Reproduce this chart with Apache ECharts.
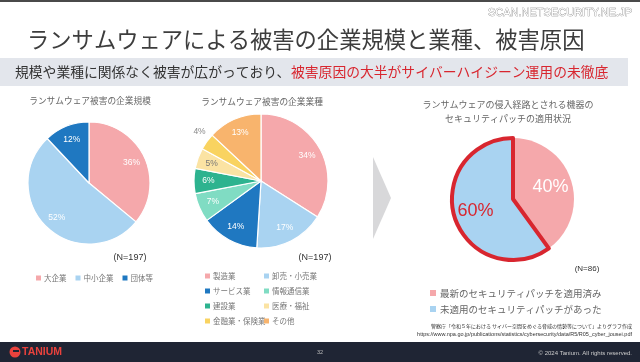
<!DOCTYPE html>
<html><head><meta charset="utf-8">
<script src="https://cdn.jsdelivr.net/npm/echarts@6/dist/echarts.min.js"></script>
<style>html,body{margin:0;padding:0;background:#fff}#c{width:640px;height:362px}</style>
</head><body><div id="c"></div>
<script>
// ---- data ----
const sizeCats = ['大企業', '中小企業', '団体等'];
const sizeVals = [36, 52, 12];
const industryCats = ['製造業', '卸売・小売業', 'サービス業', '情報通信業', '建設業', '医療・福祉', '金融業・保険業', 'その他'];
const industryVals = [34, 17, 14, 7, 6, 5, 4, 13];
const patchCats = ['最新のセキュリティパッチを適用済み', '未適用のセキュリティパッチがあった'];
const patchVals = [40, 60];
const sizeN = 197, industryN = 197, patchN = 86;

// ---- styles ----
const sizeColors = ['#f5a8ab', '#a9d3f1', '#1f78c1'];
const industryColors = ['#f5a8ab', '#a9d3f1', '#1f78c1', '#80dcc3', '#2db38f', '#fbe3a3', '#f9d360', '#f8b46d'];
const industryLabelColors = ['#fff', '#fff', '#fff', '#fff', '#fff', '#777', '#888', '#fff'];
const patchColors = ['#f5a8ab', '#a9d3f1'];
const JP = '"Noto Sans CJK JP", "Noto Sans", sans-serif';
const RED = '#d8262f';

const chart = echarts.init(document.getElementById('c'), null, {renderer: 'canvas'});

function mk(cats, vals, colors, extra) {
  return cats.map((n, i) => Object.assign({name: n, value: vals[i], itemStyle: {color: colors[i]}}, extra ? extra(i) : {}));
}
function ghost(cats, vals, labelFn) {
  return cats.map((n, i) => Object.assign({name: n, value: vals[i], itemStyle: {color: 'rgba(0,0,0,0)', borderWidth: 0}}, labelFn ? labelFn(i) : {}));
}

const legendBase = {icon: 'rect', itemWidth: 5, itemHeight: 5, selectedMode: false, padding: 0,
  itemStyle: {borderWidth: 0},
  textStyle: {fontFamily: JP, fontSize: 7.5, lineHeight: 9, color: '#777', padding: [0, 0, 0, -2]}};

const option = {
  animation: false,
  backgroundColor: '#fff',
  legend: [
    Object.assign({}, legendBase, {data: sizeCats, orient: 'horizontal', left: 36, top: 273.5, itemGap: 9}),
    Object.assign({}, legendBase, {data: [industryCats[0], industryCats[2], industryCats[4], industryCats[6]], orient: 'vertical', left: 205, top: 271.5, itemGap: 6}),
    Object.assign({}, legendBase, {data: [industryCats[1], industryCats[3], industryCats[5], industryCats[7]], orient: 'vertical', left: 264, top: 271.5, itemGap: 6}),
    Object.assign({}, legendBase, {data: patchCats, orient: 'vertical', left: 430, top: 287.5, itemGap: 5, itemWidth: 6, itemHeight: 6,
      textStyle: {fontFamily: JP, fontSize: 9.5, lineHeight: 11, color: '#666', padding: [0, 0, 0, -1]}})
  ],
  series: [
    {type: 'pie', silent: true, center: [89, 183], radius: [0, 61], startAngle: 90, clockwise: true,
     itemStyle: {borderColor: '#fff', borderWidth: 1.2}, label: {show: false}, labelLine: {show: false},
     data: mk(sizeCats, sizeVals, sizeColors)},
    {type: 'pie', silent: true, center: [261, 181], radius: [0, 67], startAngle: 90, clockwise: true,
     itemStyle: {borderColor: '#fff', borderWidth: 1.2}, label: {show: false}, labelLine: {show: false},
     data: mk(industryCats, industryVals, industryColors)},
    {type: 'pie', silent: true, center: [513, 199], radius: [0, 61], startAngle: 90, clockwise: true,
     label: {show: false}, labelLine: {show: false},
     data: mk(patchCats, patchVals, patchColors, i => i === 1 ? {itemStyle: {color: patchColors[i], borderColor: RED, borderWidth: 4, borderJoin: 'round'}} : {})},
    // label layers
    {type: 'pie', silent: true, center: [89, 183], radius: [27, 61], startAngle: 90, clockwise: true,
     label: {show: true, position: 'inside', formatter: '{c}%', color: '#fff', fontSize: 8.5, fontFamily: 'Liberation Sans, sans-serif'},
     labelLine: {show: false}, data: ghost(sizeCats, sizeVals)},
    {type: 'pie', silent: true, center: [261, 181], radius: [32, 67], startAngle: 90, clockwise: true,
     label: {show: true, position: 'inside', formatter: '{c}%', fontSize: 8.5, fontFamily: 'Liberation Sans, sans-serif'},
     labelLine: {show: false},
     data: ghost(industryCats, industryVals, i => ({label: Object.assign({color: industryLabelColors[i]}, i === 6 ? {offset: [-19, -18]} : {})}))},
    {type: 'pie', silent: true, center: [513, 199], radius: [12, 61], startAngle: 90, clockwise: true,
     label: {show: true, position: 'inside', formatter: '{c}%', fontSize: 18, fontFamily: 'Liberation Sans, sans-serif'},
     labelLine: {show: false},
     data: ghost(patchCats, patchVals, i => ({label: {color: i === 0 ? '#fff' : RED}}))}
  ],
  graphic: [
    {type: 'rect', shape: {x: 0, y: 0, width: 640, height: 2}, style: {fill: '#4a4a4a'}},
    {type: 'text', style: {x: 632, y: 13, text: 'SCAN.NETSECURITY.NE.JP', align: 'right', verticalAlign: 'middle',
      font: '11px "Liberation Sans", sans-serif', fill: '#fff', stroke: '#777', lineWidth: 0.6}},
    {type: 'text', style: {x: 27, y: 40, text: 'ランサムウェアによる被害の企業規模と業種、被害原因', verticalAlign: 'middle',
      font: '22.3px ' + JP, fill: '#3d3d3d'}},
    {type: 'rect', shape: {x: 0, y: 58, width: 628, height: 28}, style: {fill: '#e3e6ec'}},
    {type: 'text', style: {x: 15, y: 72, verticalAlign: 'middle', font: '13.8px ' + JP, fill: '#333',
      text: '規模や業種に関係なく被害が広がっており、'}},
    {type: 'text', style: {x: 291, y: 72, verticalAlign: 'middle', font: '13.8px ' + JP, fill: RED,
      text: '被害原因の大半がサイバーハイジーン運用の未徹底'}},
    {type: 'text', style: {x: 90, y: 101, text: 'ランサムウェア被害の企業規模', align: 'center', verticalAlign: 'middle', font: '8.7px ' + JP, fill: '#666'}},
    {type: 'text', style: {x: 262, y: 102, text: 'ランサムウェア被害の企業業種', align: 'center', verticalAlign: 'middle', font: '8.7px ' + JP, fill: '#666'}},
    {type: 'text', style: {x: 508, y: 105, text: 'ランサムウェアの侵入経路とされる機器の', align: 'center', verticalAlign: 'middle', font: '9px ' + JP, fill: '#666'}},
    {type: 'text', style: {x: 508, y: 119, text: 'セキュリティパッチの適用状況', align: 'center', verticalAlign: 'middle', font: '9px ' + JP, fill: '#666'}},
    {type: 'text', style: {x: 130, y: 258, text: '(N=' + sizeN + ')', align: 'center', verticalAlign: 'middle', font: '9px "Liberation Sans", sans-serif', fill: '#333'}},
    {type: 'text', style: {x: 315, y: 258, text: '(N=' + industryN + ')', align: 'center', verticalAlign: 'middle', font: '9px "Liberation Sans", sans-serif', fill: '#333'}},
    {type: 'text', style: {x: 587, y: 269, text: '(N=' + patchN + ')', align: 'center', verticalAlign: 'middle', font: '8px "Liberation Sans", sans-serif', fill: '#333'}},
    {type: 'polygon', shape: {points: [[373, 157], [391, 198], [373, 239]]}, style: {fill: '#d8d8da'}},
    {type: 'text', style: {x: 632, y: 326, align: 'right', verticalAlign: 'middle', font: '5px ' + JP, fill: '#333',
      text: '警察庁「令和５年における サイバー空間をめぐる脅威の情勢等について」よりグラフ作成'}},
    {type: 'text', style: {x: 632, y: 334, align: 'right', verticalAlign: 'middle', font: '5.5px "Liberation Sans", sans-serif', fill: '#333',
      text: 'https://www.npa.go.jp/publications/statistics/cybersecurity/data/R5/R05_cyber_jousei.pdf'}},
    {type: 'rect', shape: {x: 0, y: 342, width: 640, height: 20}, style: {fill: '#1f2534'}},
    {type: 'circle', shape: {cx: 15, cy: 352, r: 5.5}, style: {fill: '#e9423d'}},
    {type: 'rect', shape: {x: 13, y: 350, width: 6, height: 2}, style: {fill: '#1f2534'}},
    {type: 'text', style: {x: 22, y: 352, text: 'TANIUM', verticalAlign: 'middle', font: 'bold 10.5px "Liberation Sans", sans-serif', fill: '#e9423d'}},
    {type: 'text', style: {x: 320, y: 352, text: '32', align: 'center', verticalAlign: 'middle', font: '5.5px "Liberation Sans", sans-serif', fill: '#bbb'}},
    {type: 'text', style: {x: 632, y: 353, text: '© 2024 Tanium. All rights reserved.', align: 'right', verticalAlign: 'middle', font: '6px "Liberation Sans", sans-serif', fill: '#ccc'}}
  ]
};
chart.setOption(option);
</script></body></html>
